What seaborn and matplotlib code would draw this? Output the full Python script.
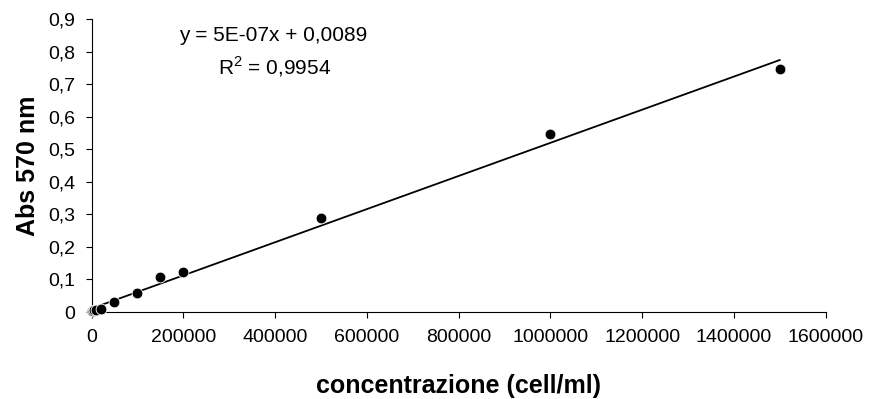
import numpy as np
import pandas as pd
import matplotlib
matplotlib.use("Agg")
import matplotlib.pyplot as plt
import seaborn as sns

conc = [0, 2500, 5000, 10000, 20000, 50000, 100000, 150000, 200000, 500000, 1000000, 1500000]
absv = [0.003, 0.004, 0.005, 0.007, 0.010, 0.030, 0.059, 0.108, 0.122, 0.289, 0.547, 0.746]
eq_text = "y = 5E-07x + 0,0089"
r2_text = "R$^2$ = 0,9954"
xticks = [0, 200000, 400000, 600000, 800000, 1000000, 1200000, 1400000, 1600000]
yticks = [0, 0.1, 0.2, 0.3, 0.4, 0.5, 0.6, 0.7, 0.8, 0.9]

sns.set_theme(style="white")
plt.rcParams['font.family'] = ['Liberation Sans', 'DejaVu Sans']
plt.rcParams['mathtext.fontset'] = 'custom'
plt.rcParams['mathtext.rm'] = 'Liberation Sans'

df = pd.DataFrame({"conc": conc, "abs": absv})
fig = plt.figure(figsize=(8.69, 3.99), dpi=100)
ax = fig.add_axes([0.1053, 0.218, 0.845, 0.734])

slope, intercept = np.polyfit(df["conc"], df["abs"], 1)
xl = np.array([0, max(conc)])
ax.plot(xl, slope * xl + intercept, color="black", lw=1.3, zorder=2)
sns.scatterplot(data=df, x="conc", y="abs", ax=ax, color="black", s=60,
                edgecolor="white", linewidth=0.6, zorder=3, clip_on=False)

ax.set_xlim(0, 1600000)
ax.set_ylim(0, 0.9)
ax.set_xticks(xticks)
ax.set_xticklabels([str(t) for t in xticks])
ax.set_yticks(yticks)
ax.set_yticklabels(["0" if t == 0 else f"{t:.1f}".replace(".", ",") for t in yticks])
ax.tick_params(axis="both", labelsize=14, colors="black", direction="out",
               length=4.5, width=0.8, bottom=True, left=True)
ax.tick_params(axis="x", pad=8)
ax.tick_params(axis="y", pad=7)
for s in ["top", "right"]:
    ax.spines[s].set_visible(False)
for s in ["left", "bottom"]:
    ax.spines[s].set_color("black")
    ax.spines[s].set_linewidth(0.8)

ax.set_xlabel("concentrazione (cell/ml)", fontsize=18, fontweight="bold", labelpad=20, color="black")
ax.set_ylabel("Abs 570 nm", fontsize=18, fontweight="bold", labelpad=6, color="black")

ax.text(0.248, 0.925, eq_text, transform=ax.transAxes, ha="center", va="baseline", fontsize=15, color="black")
ax.text(0.249, 0.812, r2_text, transform=ax.transAxes, ha="center", va="baseline", fontsize=15, color="black")

fig.savefig("out.png", dpi=100)
